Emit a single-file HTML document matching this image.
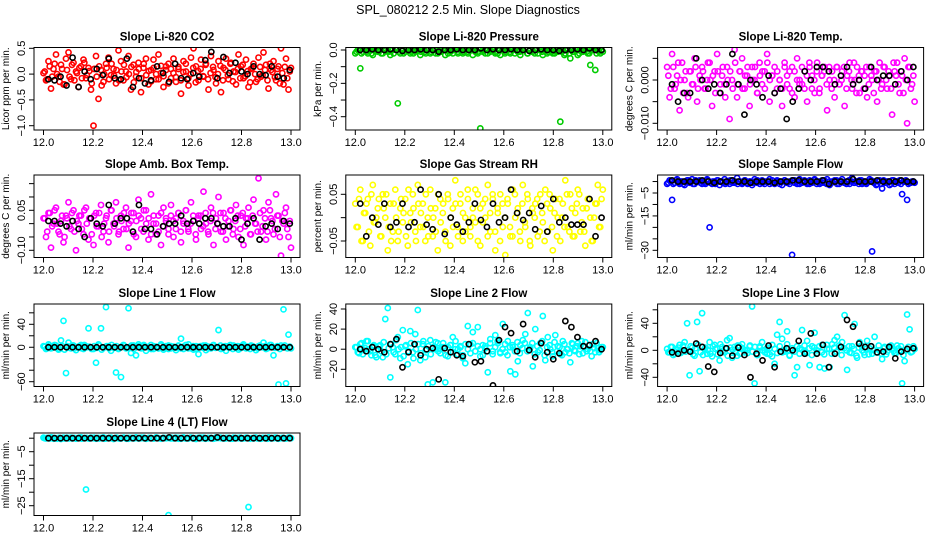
<!DOCTYPE html>
<html><head><meta charset="utf-8">
<style>
html,body{margin:0;padding:0;background:#fff;}
svg{display:block;font-family:"Liberation Sans",Arial,sans-serif;}
</style></head>
<body>
<svg id="chart" width="936" height="540" viewBox="0 0 936 540" xmlns="http://www.w3.org/2000/svg">
<rect x="0" y="0" width="936" height="540" fill="#fff"/>
<text x="468" y="14" text-anchor="middle" font-size="12.5">SPL_080212  2.5 Min. Slope Diagnostics</text>
</svg>
<script>
const xTickValues = [12.0, 12.2, 12.4, 12.6, 12.8, 13.0];
const xTickLabels = ["12.0", "12.2", "12.4", "12.6", "12.8", "13.0"];

const co2Vals = [0.02,-0.12,0.25,-0.28,0.1,0.38,-0.05,0.18,-0.2,0.3, 0.42,-0.1,0.22,0.05,-0.25,0.15,0.28,-0.08,0.12,-0.3, -1.0,0.35,-0.48,0.08,-0.15,0.2,0.32,-0.02,0.1,-0.18, 0.46,0.25,-0.12,0.05,0.35,-0.3,0.18,-0.05,0.22,-0.35, 0.12,0.3,-0.2,0.08,0.28,-0.1,0.38,0.02,-0.25,0.15, 0.2,-0.08,0.3,-0.15,0.1,-0.38,0.25,0.05,-0.22,0.32, 0.5,0.15,-0.12,0.28,-0.05,0.2,-0.3,0.35,0.08,-0.18, 0.25,-0.35,0.12,0.3,-0.1,0.22,0.05,-0.2,0.38,0.15, -0.08,0.28,-0.25,0.1,0.2,-0.15,0.32,-0.05,0.42,0.18, -0.28,0.08,0.25,-0.12,0.15,0.5,-0.2,0.3,-0.3,0.12];
const co2Vals2 = [0.05,-0.1,0.15,-0.05,0.2,0.0,-0.15,0.1,-0.2,0.08, -0.05,0.18,-0.12,0.02,0.12,-0.08,0.22,-0.02,0.06,-0.18, 0.1,-0.05,0.15,-0.22,0.0,0.12,-0.1,0.2,-0.03,0.08, -0.12,0.05,0.18,-0.06,0.0,0.14,-0.16,0.04,0.1,-0.08, 0.2,-0.02,0.06,-0.14,0.12,0.0,-0.1,0.16,-0.04,0.08, -0.18,0.1,0.02,-0.06,0.14,-0.12,0.04,0.2,-0.08,0.0, 0.12,-0.16,0.06,0.1,-0.04,0.18,-0.1,0.02,0.14,-0.06, 0.0,0.16,-0.12,0.08,-0.02,0.2,-0.14,0.04,0.1,-0.08, 0.18,-0.04,0.06,-0.16,0.12,0.0,-0.1,0.14,-0.02,0.08, -0.12,0.2,0.04,-0.06,0.1,-0.18,0.02,0.14,-0.08,0.05];
const co2Black = [-0.1,-0.12,-0.05,-0.22,0.32,-0.25,0.05,-0.1,0.1,-0.02,0.3,-0.08,-0.1,0.3,-0.25,-0.08,-0.18,-0.12,0.15,0.02,-0.15,0.2,-0.08,-0.1,0.02,-0.05,0.27,0.43,-0.08,0.33,0.02,0.22,0.05,0,0.15,0,-0.02,0.15,-0.05,-0.08,0.08];

const pressVals = [-0.02,0.0,-0.11,-0.01,0.01,-0.02,0.0,-0.03,0.01,-0.01, 0.0,-0.02,0.01,-0.01,-0.03,0.0,0.01,-0.32,-0.02,0.0, -0.01,0.01,-0.02,0.0,-0.01,0.02,-0.03,0.0,-0.01,0.01, -0.02,0.0,0.01,-0.02,-0.01,0.0,-0.03,0.01,0.0,-0.02, 0.01,-0.01,0.0,-0.02,0.01,-0.01,0.0,-0.03,0.02,-0.01, -0.47,0.0,-0.02,0.01,-0.01,0.0,-0.02,0.01,-0.03,0.0, -0.01,0.01,-0.02,0.0,0.01,-0.01,-0.03,0.0,0.01,-0.02, 0.0,-0.01,0.01,-0.02,0.0,-0.03,0.01,-0.01,0.0,-0.02, 0.01,-0.01,-0.43,0.0,-0.02,0.01,-0.05,-0.01,0.0,-0.03, 0.02,-0.01,0.01,-0.02,-0.09,0.0,-0.12,0.01,-0.02,-0.01];
const pressVals2 = [-0.01,0.0,-0.02,0.01,-0.01,0.0,-0.02,0.0,0.01,-0.01, -0.02,0.01,0.0,-0.01,0.0,-0.02,0.01,-0.01,0.0,-0.02, 0.01,0.0,-0.01,-0.02,0.0,0.01,-0.01,0.0,-0.02,0.0, -0.01,0.01,-0.02,0.0,-0.01,0.0,0.01,-0.02,-0.01,0.0, 0.0,-0.02,0.01,-0.01,0.0,-0.02,0.0,0.01,-0.01,-0.02, 0.01,-0.01,0.0,-0.02,0.0,0.01,-0.01,-0.02,0.0,0.01, -0.02,0.0,-0.01,0.01,-0.02,0.0,-0.01,0.0,0.01,-0.02, 0.0,-0.01,-0.02,0.01,0.0,-0.01,0.0,-0.02,0.01,-0.01, -0.02,0.0,0.01,-0.01,-0.03,0.0,-0.02,0.01,-0.01,0.0, -0.02,0.01,0.0,-0.01,-0.02,0.0,0.01,-0.02,-0.01,0.0];
const pressBlack = [0.0,0.0,0.005,0.0,0.0,0.005,0.0,-0.005,0.0,0.0, 0.005,0.0,0.0,-0.01,0.0,0.0,0.005,0.0,0.0,0.0, 0.01,0.0,0.005,0.0,0.0,0.005,0.0,0.0,-0.005,0.0, 0.005,0.0,0.0,-0.005,0.0,0.0,0.005,0.0,0.01,0.0,0.0];

const tempVals = [0.003,-0.004,0.006,-0.002,0.001,-0.007,0.004,0.0,-0.003,0.002, -0.001,0.005,-0.005,0.001,0.003,-0.002,0.0,0.004,-0.006,0.002, 0.006,-0.003,0.001,-0.001,0.003,-0.009,0.0,0.007,-0.004,0.002, 0.005,-0.002,0.001,-0.006,0.003,0.0,-0.003,0.004,-0.001,0.002, 0.006,-0.005,0.001,0.003,-0.002,0.0,-0.006,0.004,0.001,-0.002, 0.003,-0.004,0.005,0.0,-0.001,0.002,-0.005,0.003,0.001,-0.003, 0.004,-0.002,0.001,0.003,-0.007,0.0,0.002,-0.004,0.003,-0.001, 0.002,-0.006,0.001,0.004,-0.002,0.0,0.003,-0.003,0.002,0.001, -0.004,0.003,0.0,0.002,-0.005,0.004,-0.001,0.003,-0.002,0.001, -0.008,0.002,0.004,-0.003,0.001,0.005,-0.010,0.003,-0.001,-0.005];
const tempVals2 = [0.001,-0.002,0.003,-0.001,0.004,0.0,-0.003,0.002,-0.004,0.002, -0.001,0.003,-0.002,0.0,0.002,-0.002,0.004,0.0,0.001,-0.003, 0.002,-0.001,0.003,-0.004,0.0,0.002,-0.002,0.004,-0.001,0.002, -0.002,0.001,0.003,-0.001,0.0,0.003,-0.003,0.001,0.002,-0.002, 0.004,0.0,0.001,-0.003,0.002,0.0,-0.002,0.003,-0.001,0.002, -0.003,0.002,0.0,-0.001,0.003,-0.002,0.001,0.004,-0.002,0.0, 0.002,-0.003,0.001,0.002,-0.001,0.003,-0.002,0.0,0.003,-0.001, 0.0,0.003,-0.002,0.002,0.0,0.004,-0.003,0.001,0.002,-0.002, 0.003,-0.001,0.001,-0.003,0.002,0.0,-0.002,0.003,0.0,0.002, -0.002,0.004,0.001,-0.001,0.002,-0.003,0.0,0.003,-0.002,0.001];
const tempBlack = [-0.001,-0.005,-0.003,-0.003,0.005,0.0,-0.002,-0.001,-0.003,-0.001,0.006,-0.001,-0.008,0.0,-0.001,-0.004,0.001,-0.003,-0.002,-0.009,-0.005,-0.002,0.002,0.0,0.003,0.003,0.002,-0.001,0.001,0.003,-0.001,0.0,-0.002,0.003,0.0,0.001,0.001,-0.001,0.002,0.0,0.003];

const ambVals = [0.02,-0.05,0.04,-0.09,0.0,0.06,-0.03,0.01,-0.07,0.03, 0.08,-0.02,0.05,-0.1,0.0,0.03,-0.04,0.06,-0.06,0.02, -0.08,0.04,-0.01,0.07,-0.03,0.02,-0.07,0.05,0.0,0.08, -0.04,0.03,-0.02,0.06,-0.09,0.01,0.04,-0.05,0.09,0.02, -0.03,0.05,-0.06,0.11,0.0,-0.04,0.03,-0.08,0.06,0.01, -0.02,0.07,-0.05,0.02,0.04,-0.07,0.0,0.05,-0.03,0.08, 0.01,-0.06,0.03,-0.02,0.12,0.0,-0.04,0.06,-0.08,0.02, 0.1,-0.03,0.04,-0.06,0.01,0.05,-0.02,0.07,-0.05,0.03, -0.08,0.02,0.06,-0.04,0.09,0.0,0.17,-0.03,0.05,-0.06, 0.08,0.02,-0.04,0.11,0.03,-0.12,0.0,0.06,-0.05,-0.09];
const ambVals2 = [0.02,-0.03,0.04,-0.01,0.05,0.0,-0.04,0.03,-0.05,0.02, -0.01,0.04,-0.03,0.01,0.03,-0.02,0.05,0.0,0.02,-0.04, 0.03,-0.01,0.04,-0.05,0.0,0.03,-0.03,0.05,-0.01,0.02, -0.03,0.01,0.04,-0.02,0.0,0.04,-0.04,0.01,0.03,-0.02, 0.05,0.0,0.02,-0.04,0.03,0.0,-0.03,0.04,-0.01,0.02, -0.04,0.03,0.01,-0.02,0.04,-0.03,0.01,0.05,-0.02,0.0, 0.03,-0.04,0.02,0.03,-0.01,0.04,-0.03,0.01,0.04,-0.02, 0.0,0.04,-0.03,0.02,-0.01,0.05,-0.04,0.01,0.03,-0.02, 0.04,-0.01,0.02,-0.04,0.03,0.0,-0.03,0.04,-0.01,0.02, -0.03,0.05,0.01,-0.02,0.03,-0.05,0.01,0.04,-0.02,0.01];
const ambBlack = [0.01,0.01,0.0,-0.01,0.01,-0.02,-0.05,0.02,0.0,-0.01,0.07,0.0,0.02,0.02,-0.03,0.07,-0.02,-0.02,-0.04,-0.01,0.0,0.0,0.03,0.0,0.01,0.0,0.02,0.02,0.0,-0.01,-0.01,0.02,-0.06,0.0,0.02,-0.06,-0.01,0.0,-0.02,0.01,0.0];

const rhVals = [0.03,-0.02,0.06,-0.05,0.01,0.04,-0.06,0.07,-0.01,0.02, -0.04,0.05,0.0,-0.07,0.03,-0.03,0.06,-0.05,0.02,-0.01, 0.04,-0.06,0.01,0.05,-0.03,0.07,-0.02,0.03,-0.05,0.0, 0.06,-0.04,0.02,-0.07,0.04,0.01,-0.03,0.05,-0.06,0.02, 0.08,-0.02,0.03,-0.05,0.0,0.06,-0.04,0.02,-0.01,0.05, -0.06,0.03,0.0,0.07,-0.03,0.04,-0.07,0.01,0.05,-0.02, -0.08,0.03,-0.04,0.06,0.0,0.02,-0.05,0.07,-0.02,0.04, -0.06,0.01,0.03,-0.04,0.05,-0.01,0.06,-0.03,0.02,-0.07, 0.04,0.0,-0.05,0.03,0.08,-0.02,0.05,-0.04,0.01,0.06, -0.03,0.02,-0.06,0.04,0.0,-0.05,0.03,0.07,-0.02,0.06];
const rhVals2 = [-0.02,0.04,-0.05,0.01,0.03,-0.03,0.05,-0.01,0.0,0.04, -0.04,0.02,0.05,-0.02,-0.05,0.03,0.0,-0.03,0.04,0.01, -0.04,0.06,-0.01,0.02,-0.05,0.03,0.01,-0.02,0.05,-0.04, 0.02,0.0,-0.03,0.05,-0.01,0.03,-0.05,0.04,0.0,-0.02, 0.03,-0.04,0.05,0.01,-0.03,0.04,-0.02,0.0,0.06,-0.05, 0.02,-0.01,0.04,-0.04,0.01,0.05,-0.03,0.02,-0.05,0.03, 0.0,0.04,-0.02,-0.04,0.05,0.01,-0.03,0.03,-0.01,0.05, -0.05,0.02,0.0,0.04,-0.03,0.01,-0.05,0.03,0.05,-0.02, 0.01,-0.04,0.04,0.0,-0.02,0.05,-0.03,0.02,-0.04,0.03, 0.05,-0.01,-0.03,0.02,0.04,-0.05,0.0,0.03,-0.02,0.04];
const rhBlack = [0.03,-0.04,0.0,-0.015,0.03,-0.02,-0.01,0.03,-0.02,-0.01,0.06,-0.015,-0.025,0.05,-0.035,0.0,-0.015,-0.03,-0.01,0.03,-0.005,-0.02,0.03,-0.01,0.0,0.06,0.01,-0.005,0.01,-0.025,0.025,-0.03,0.04,-0.01,0.0,-0.015,-0.015,-0.015,0.04,-0.04,0.0];

const sampleVals = [-1,0.5,-8,-0.5,1,-1,0,-1.5,0.5,-0.5, 1,-1,0,0.5,-1,-0.5,1,-20,-1,0, 0.5,-1.5,0,1,-0.5,-1,0.5,-0.5,1.5,0, -1,0.5,-0.5,0,-1.5,1,-0.5,0,0.5,-1, 0,1,-0.5,-1,0.5,0,-1.5,0.5,-0.5,0, -32,0.5,-1,1,-0.5,0,-1,0.5,-0.5,1, 0,-1,0.5,-0.5,1,-1.5,0,0.5,-1,0, 1,-0.5,0,-1,1.5,-0.5,0,0.5,-1,0, -0.5,1,-30.5,0,-1,0.5,-3,-0.5,0,-1.5, 0.5,-1,0,0.5,-5.5,0,-8,-0.5,0,-0.5];
const sampleVals2 = [-0.5,0,-1,0.5,-0.5,0,-1,0,0.5,-0.5, -1,0.5,0,-0.5,0,-1,0.5,-0.5,0,-1, 0.5,0,-0.5,-1,0,0.5,-0.5,0,-1,0, -0.5,0.5,-1,0,-0.5,0,0.5,-1,-0.5,0, 0,-1,0.5,-0.5,0,-1,0,0.5,-0.5,-1, 0.5,-0.5,0,-1,0,0.5,-0.5,-1,0,0.5, -1,0,-0.5,0.5,-1,0,-0.5,0,0.5,-1, 0,-0.5,-1,0.5,0,-0.5,0,-1,0.5,-0.5, -1,0,0.5,-0.5,-1.5,0,-1,0.5,-0.5,0, -1,0.5,0,-0.5,-1,0,0.5,-1,-0.5,0];
const sampleBlack = [0.5,0,0,0,0,0.5,0,-0.5,0,0,0.5,0,0,-0.5,0,0,0,-0.5,0,0,0.5,0.5,0,0,0,0.5,-1,0,0,0,1,0,0,0,0.5,0,0,0,0.5,0,0];

const line1Vals = [2,-3,5,-2,0,3,-4,12,46,-45, 8,-2,3,-5,1,4,-3,2,33,0, -3,-27,5,33,-1,70,2,-6,0,-44, -3,-52,4,-2,68,-10,3,-14,5,-1, 2,-6,0,4,-3,1,-2,5,-4,0, 3,-2,1,-5,2,15,-3,0,5,-2, -4,2,-12,0,3,-5,1,-2,4,0, 30,-3,1,-6,2,0,3,-1,-4,2, 5,-2,0,3,-1,-5,2,0,8,-3, 1,4,-14,0,-65,3,66,-63,22,-2];
const line1Vals2 = [1,-2,3,-1,4,0,-3,2,-4,2, -1,3,-2,0,2,-2,4,0,1,-3, 2,-1,3,-4,0,2,-2,4,-1,2, -2,1,3,-1,0,3,-3,1,2,-2, 4,0,1,-3,2,0,-2,3,-1,2, -3,2,0,-1,3,-2,1,4,-2,0, 2,-3,1,2,-1,3,-2,0,3,-1, 0,3,-2,2,0,4,-3,1,2,-2, 3,-1,1,-3,2,0,-2,3,0,2, -2,4,1,-1,2,-3,0,3,-2,1];
const line1Black = [0,0,0,0,0,0,0,0,0,0,0,0,0,0,0,0,0,0,0,0,0,0,0,0,0,0,0,0,0,0,0,0,0,0,0,0,0,0,0,0,0];

const line2Vals = [2,-3,5,-5,1,8,-2,3,-6,0, 4,-8,30,41,-28,2,-5,12,-9,19, 3,-15,18,-3,15,39,-11,5,-8,-35, 9,-33,0,6,-4,2,-33,-7,4,12, 0,-5,3,-9,-14,23,5,17,-2,22, 0,-6,3,-23,10,-2,14,6,-4,25, -3,8,-22,2,-25,-12,4,9,15,36, 2,-17,20,-3,6,33,-11,12,0,-7, 14,3,-5,8,-3,0,-13,5,-2,6, 3,-4,7,0,-2,5,-3,1,-1,2];
const line2Vals2 = [2,-4,6,-1,8,0,-6,4,-8,3, -2,7,-5,1,5,-3,9,0,2,-7, 4,-2,6,-9,0,5,-4,8,-1,3, -5,2,7,-2,0,6,-6,2,4,-3, 8,0,2,-6,5,0,-4,6,-2,3, -7,4,1,-2,6,-5,2,8,-3,0, 5,-6,2,4,-2,7,-4,1,6,-2, 0,6,-5,3,-1,8,-6,2,4,-3, 7,-2,2,-6,5,0,-4,6,-1,3, -5,8,2,-2,4,-7,1,6,-3,2];
const line2Black = [0,-2,2,0,-3,5,10,-18,-3,5,-6,0,1,-30,1,-3,-6,-7,5,-13,-12,-2,-36,9,22,16,-2,25,-1,-8,6,-3,-10,-4,28,22,12,3,4,8,0];

const line3Vals = [2,-3,5,-5,1,8,-2,12,40,-37, 4,-8,42,-31,55,2,-5,12,-9,8, 3,-15,5,-3,15,18,-11,5,-8,6, 9,-3,0,6,65,-49,-7,4,12,0, -5,3,-9,-20,23,42,17,-2,28,-8, 0,-37,-25,3,30,-2,14,-22,6,26, -4,-25,8,-27,2,-25,9,15,20,4, 12,52,-29,-3,6,39,-11,12,0,-7, 14,3,-5,20,-3,0,-13,5,-2,6, 3,-4,7,0,-49,-16,53,31,-2,2];
const line3Vals2 = [-3,5,-7,1,4,-4,7,-2,0,6, -6,3,8,-3,-7,4,0,-5,6,2, -6,9,-1,3,-8,4,1,-3,7,-5, 3,0,-4,7,-2,5,-7,6,0,-3, 4,-6,8,2,-4,6,-3,0,9,-7, 3,-2,6,-5,1,7,-4,3,-7,4, 0,6,-3,-6,8,2,-5,4,-2,7, -7,3,0,6,-4,2,-8,4,7,-3, 2,-6,6,0,-3,7,-5,3,-6,4, 7,-1,-4,3,6,-7,0,5,-3,6];
const line3Black = [-3,-5,0,-2,10,5,-24,-32,-4,3,-8,4,-7,-40,-5,-15,7,-25,-2,3,0,14,-5,25,-5,8,-25,-5,5,45,35,10,5,6,-3,-2,5,-12,-2,2,3];

const line4Vals = [0.2,-0.1,0,0.3,-0.2,0,0.1,-0.3,0.2,0, -0.1,0.2,0,-0.2,0.1,0.3,0,-19,-0.1,0.2, 0,-0.2,0.1,0,0.3,-0.1,0,0.2,-0.3,0.1, 0,-0.1,0.2,0,-0.2,0.1,0,0.3,-0.1,0, 0.2,-0.2,0,0.1,-0.1,0.3,0,-0.2,0.1,0, -28.5,0.2,-0.1,0,0.1,-0.2,0.3,0,-0.1,0.2, 0,-0.3,0.1,0,0.2,-0.1,0,0.1,-0.2,0.3, 0.2,0,-0.1,0.1,0,-0.2,0.2,0,0.1,-0.1, 0,0.2,-25.5,0,-0.1,0.2,0,-0.2,0.1,0, 0.3,-0.1,0,0.2,-0.2,0,0.1,-0.1,0.2,0];
const line4Vals2 = [0,0.1,-0.1,0.2,0,-0.2,0.1,0,-0.1,0.2, 0,-0.1,0.1,0,0.2,-0.2,0,0.1,-0.1,0, 0.2,0,-0.1,0.1,-0.2,0,0.1,0,-0.1,0.2, -0.1,0,0.2,-0.2,0.1,0,-0.1,0.1,0,0.2, 0,-0.2,0.1,0,-0.1,0.2,0,-0.1,0.1,0, 0.1,-0.1,0,0.2,-0.2,0,0.1,-0.1,0,0.2, -0.1,0,0.1,0.2,0,-0.2,0.1,0,-0.1,0, 0.1,0.2,0,-0.1,0.1,0,-0.2,0.1,0,0.2, -0.1,0,0.1,-0.2,0,0.2,-0.1,0,0.1,0, -0.2,0.1,0,0.2,-0.1,0,0.1,-0.1,0,0.2];
const line4Black = [0,0,0,0,0,0,0,0,0,0,0,0,0,0,0,0,0,0,0,0,0.3,0,0,0,0,0,0,0,0.3,0,0,0,0,0,0,0,0,0,0,0,0];

const panelTitles = ["Slope Li-820 CO2","Slope Li-820 Pressure","Slope Li-820 Temp.","Slope Amb. Box Temp.","Slope Gas Stream RH","Slope Sample Flow","Slope Line 1 Flow","Slope Line 2 Flow","Slope Line 3 Flow","Slope Line 4 (LT) Flow"];
const panelYLabels = ["Licor ppm per min.","kPa per min.","degrees C per min.","degrees C per min.","percent per min.","ml/min per min.","ml/min per min.","ml/min per min.","ml/min per min.","ml/min per min."];
const panelColorVals = [co2Vals,pressVals,tempVals,ambVals,rhVals,sampleVals,line1Vals,line2Vals,line3Vals,line4Vals];
const panelColorVals2 = [co2Vals2,pressVals2,tempVals2,ambVals2,rhVals2,sampleVals2,line1Vals2,line2Vals2,line3Vals2,line4Vals2];
const panelBlackVals = [co2Black,pressBlack,tempBlack,ambBlack,rhBlack,sampleBlack,line1Black,line2Black,line3Black,line4Black];
const panelColors = ["#ff0000","#00cc00","#ff00ff","#ff00ff","#ffff00","#0000ff","#00ffff","#00ffff","#00ffff","#00ffff"];
const panelYTicks = [[0.5,0,-0.5,-1.0],[0,-0.1,-0.2,-0.3,-0.4],[0.005,0,-0.005,-0.01],[0.15,0.10,0.05,0,-0.05,-0.10],[0.05,0,-0.05],[0,-5,-10,-15,-20,-25,-30],[60,40,20,0,-20,-40,-60],[40,20,0,-20],[60,40,20,0,-20,-40],[0,-5,-10,-15,-20,-25]];
const panelYTickLabels = [["0.5","0.0","−0.5","−1.0"],["0.0","","−0.2","","−0.4"],["","0.000","","−0.010"],["","","0.05","","","−0.10"],["0.05","","−0.05"],["","−5","","−15","","","−30"],["","40","","0","","","−60"],["40","20","0","−20"],["","40","","0","","−40"],["","−5","","−15","","−25"]];
// calibration: value A -> pixel A, value B -> pixel B
const panelYCal = [[0.5,48.3,-1.0,125.7],[0,50,-0.4,116.7],[0,80,-0.01,123.3],[0.05,210.3,-0.10,250.3],[0.05,194.3,-0.05,241],[-5,193,-30,250.3],[40,324.3,-60,381.7],[40,309,-20,369.3],[40,323.3,-40,377.3],[-5,451.7,-25,505.7]];

const NS = "http://www.w3.org/2000/svg";
const svg = document.getElementById("chart");
function mk(tag, attrs, parent) {
  const e = document.createElementNS(NS, tag);
  for (const k in attrs) e.setAttribute(k, attrs[k]);
  (parent || svg).appendChild(e);
  return e;
}
const rowTops = [47.5, 175, 304, 433];
const boxH = 82.5;

panelTitles.forEach((title, p) => {
  const col = p % 3, row = Math.floor(p / 3);
  const left = 34 + 311.8 * col, top = rowTops[row];
  const x0 = left + 9.5, xs = 247.5;
  const xScale = v => x0 + (v - 12) * xs;
  const cal = panelYCal[p];
  const yScale = v => cal[1] + (v - cal[0]) * (cal[3] - cal[1]) / (cal[2] - cal[0]);
  const g = mk("g", {});
  
  

  const clip = mk("clipPath", {id: "clip" + p}, g);
  mk("rect", {x: left, y: top, width: 266, height: boxH}, clip);

  const t = mk("text", {x: left + 133, y: top - 7, "text-anchor": "middle", "font-size": "11.5", "font-weight": "bold"}, g);
  t.textContent = title;
  
  

  const yl = mk("text", {transform: `translate(${left - 25},${top + boxH / 2}) rotate(-90)`, "text-anchor": "middle", "font-size": "10"}, g);
  yl.textContent = panelYLabels[p];
  
  

  const marks = mk("g", {"clip-path": `url(#clip${p})`, fill: "none", "stroke-width": "1.6"}, g);
  
  
  const cv = panelColorVals[p];
  cv.forEach((v, i) => {
    const c = mk("circle", {cx: xScale(12 + i / (cv.length - 1)), cy: yScale(v), r: 2.6, stroke: panelColors[p]}, marks);
    
    
  });
  const cv2 = panelColorVals2[p];
  cv2.forEach((v, i) => {
    const c = mk("circle", {cx: xScale(12 + (i + 0.5) / cv2.length), cy: yScale(v), r: 2.6, stroke: panelColors[p]}, marks);
    
    
  });
  const bv = panelBlackVals[p];
  bv.forEach((v, i) => {
    const c = mk("circle", {cx: xScale(12.02 + 0.975 * i / (bv.length - 1)), cy: yScale(v), r: 2.6, stroke: "#000"}, marks);
    
    
  });

  const box = mk("rect", {x: left, y: top, width: 266, height: boxH, fill: "none", stroke: "#000", "stroke-width": "1"}, g);
  
  

  const bottom = top + boxH;
  mk("line", {x1: xScale(12), x2: xScale(13), y1: bottom, y2: bottom, stroke: "#000"}, g);
  xTickValues.forEach((v, i) => {
    const x = xScale(v);
    mk("line", {x1: x, x2: x, y1: bottom, y2: bottom + 5, stroke: "#000"}, g);
    const lt = mk("text", {x: x, y: bottom + 16, "text-anchor": "middle", "font-size": "11"}, g);
    lt.textContent = xTickLabels[i];
    
    
  });
  const yt = panelYTicks[p];
  mk("line", {x1: left, x2: left, y1: yScale(yt[0]), y2: yScale(yt[yt.length - 1]), stroke: "#000"}, g);
  yt.forEach((v, i) => {
    const y = yScale(v);
    mk("line", {x1: left - 5, x2: left, y1: y, y2: y, stroke: "#000"}, g);
    const lab = panelYTickLabels[p][i];
    if (lab) {
      const lt = mk("text", {transform: `translate(${left - 9},${y}) rotate(-90)`, "text-anchor": "middle", "font-size": "11"}, g);
      lt.textContent = lab;
      
      
    }
  });
});
</script>
</body></html>
